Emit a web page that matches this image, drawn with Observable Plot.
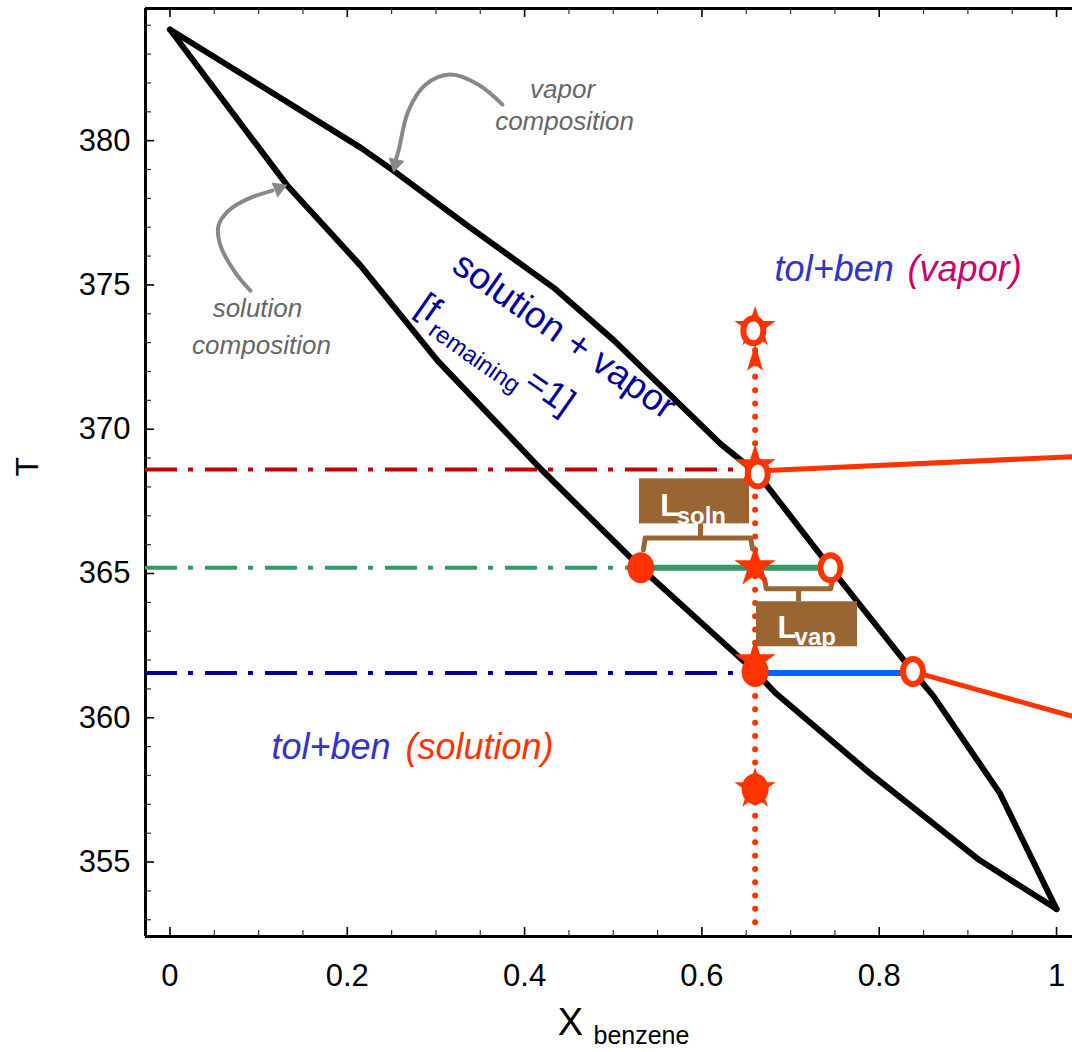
<!DOCTYPE html>
<html><head><meta charset="utf-8">
<script src="https://cdn.jsdelivr.net/npm/d3@7"></script>
<script src="https://cdn.jsdelivr.net/npm/@observablehq/plot@0.6"></script>
<style>body{margin:0;background:#fff;}</style>
</head><body><div id="chart"></div>
<script>
// ---------- data ----------
const liquidX = [0, 0.1325, 0.215, 0.302, 0.418, 0.531, 0.660, 0.683, 0.789, 0.913, 1.0];
const liquidT = [383.85, 378.44, 375.67, 372.37, 368.63, 365.2, 361.6, 360.86, 358.09, 355.07, 353.37];
const vaporX = [0, 0.215, 0.252, 0.339, 0.433, 0.501, 0.621, 0.663, 0.745, 0.838, 0.861, 0.936, 1.0];
const vaporT = [383.85, 379.76, 378.96, 376.98, 374.9, 373.07, 369.49, 368.45, 365.2, 361.6, 360.76, 357.39, 353.37];

const levelT = [368.6, 365.2, 361.55];
const levelColor = ["#c40000", "#339966", "#000099"];
const dashEndX = [0.655, 0.52, 0.645];
const tieStartX = [0.531, 0.660];
const tieEndX = [0.745, 0.838];
const tieT = [365.2, 361.55];
const tieColor = ["#339966", "#0066ff"];

const feedX = 0.660;
const feedLineT = [352.9, 372.9];
const starT = [373.52, 368.73, 365.23, 361.97, 357.53];
const hollowX = [0.658, 0.663, 0.745, 0.838];
const hollowT = [373.41, 368.45, 365.2, 361.6];
const solidX = [0.531, 0.660, 0.660];
const solidT = [365.2, 361.6, 357.53];
const arrowHeadT = [372.48];

const outLineA = {x: [0.663, 1.018], T: [368.55, 369.05]};
const outLineB = {x: [0.838, 1.018], T: [361.6, 360.05]};

const xTicks = [0, 0.2, 0.4, 0.6, 0.8, 1];
const xTickLabels = ["0", "0.2", "0.4", "0.6", "0.8", "1"];
const yTicks = [355, 360, 365, 370, 375, 380];
const yTickLabels = ["355", "360", "365", "370", "375", "380"];

// annotation geometry (data units)
const vapArrowX = [0.3751, 0.348, 0.3164, 0.2882, 0.269, 0.2578, 0.2544];
const vapArrowT = [381.25, 381.94, 382.29, 381.94, 381.04, 379.65, 379.31];
const vapHead = {x: 0.2544, T: 379.2, rotate: 193};
const solArrowX = [0.0908, 0.0739, 0.057, 0.0547, 0.066, 0.0885, 0.1156];
const solArrowT = [374.8, 375.42, 376.36, 377.05, 377.57, 377.99, 378.27];
const solHead = {x: 0.1228, T: 378.35, rotate: 68};

const boxSoln = {x1: 0.5296, x2: 0.6537, y1: 366.72, y2: 368.28};
const boxVap = {x1: 0.6616, x2: 0.7755, y1: 362.46, y2: 364.02};
const braceSolnX = [0.534, 0.536, 0.655, 0.6571];
const braceSolnT = [365.82, 366.23, 366.23, 365.85];
const stemSoln = {x: 0.5984, T: [366.23, 366.72]};
const braceVapX = [0.6706, 0.6726, 0.7453, 0.7473];
const braceVapT = [364.81, 364.47, 364.47, 364.81];
const stemVap = {x: 0.709, T: [364.47, 364.02]};

// ---------- scales ----------
const xMin = -0.0276, xMax = 1.018, yMin = 352.42, yMax = 384.58;
const pxX = (xMax - xMin) / 927, pxY = (yMax - yMin) / 928;
const FONT = "'Liberation Sans', Arial, Helvetica, sans-serif";
const RED = "#ff3300", BROWN = "#996633", GRAY = "#888888";

const xMinor = d3.range(0.05, 1.0001, 0.05).map(v => +v.toFixed(2)).filter(v => !xTicks.includes(v));
const yMinor = d3.range(353, 385).filter(v => !yTicks.includes(v));

function ellipseSymbol(rx, ry) {
  const k = 0.5523;
  return {draw(ctx) {
    ctx.moveTo(rx, 0);
    ctx.bezierCurveTo(rx, ry * k, rx * k, ry, 0, ry);
    ctx.bezierCurveTo(-rx * k, ry, -rx, ry * k, -rx, 0);
    ctx.bezierCurveTo(-rx, -ry * k, -rx * k, -ry, 0, -ry);
    ctx.bezierCurveTo(rx * k, -ry, rx, -ry * k, rx, 0);
    ctx.closePath();
  }};
}
const upHead = {draw(ctx) { ctx.moveTo(0, -14); ctx.lineTo(8, 13); ctx.lineTo(0, 7); ctx.lineTo(-8, 13); ctx.closePath(); }};
const zip = (xs, ts) => xs.map((x, i) => ({x, T: ts[i]}));

const marks = [
  // frame
  Plot.ruleX([xMin], {y1: yMin, y2: yMax, stroke: "black", strokeWidth: 3}),
  Plot.ruleY([yMax, yMin], {x1: xMin, x2: xMax, stroke: "black", strokeWidth: 3}),
  // inward ticks
  Plot.ruleY(yTicks, {x1: xMin, x2: xMin + 9 * pxX, stroke: "black", strokeWidth: 1.6}),
  Plot.ruleY(yMinor, {x1: xMin, x2: xMin + 6 * pxX, stroke: "#333", strokeWidth: 1.2}),
  Plot.ruleX(xTicks, {y1: yMax, y2: yMax - 9 * pxY, stroke: "black", strokeWidth: 1.6}),
  Plot.ruleX(xMinor, {y1: yMax, y2: yMax - 6 * pxY, stroke: "#333", strokeWidth: 1.2}),
  Plot.ruleX(xTicks, {y1: yMin, y2: yMin + 9 * pxY, stroke: "black", strokeWidth: 1.6}),
  Plot.ruleX(xMinor, {y1: yMin, y2: yMin + 6 * pxY, stroke: "#333", strokeWidth: 1.2}),
  Plot.axisX({ticks: xTicks, tickSize: 0, tickPadding: 27, fontSize: 31, label: null,
    tickFormat: d => xTickLabels[xTicks.indexOf(d)]}),
  Plot.axisY({ticks: yTicks, tickSize: 0, tickPadding: 15, fontSize: 31, label: null,
    tickFormat: d => yTickLabels[yTicks.indexOf(d)]}),
  // dash-dot level lines
  ...levelT.map((t, i) => Plot.ruleY([t], {x1: xMin, x2: dashEndX[i], stroke: levelColor[i], strokeWidth: 4, strokeDasharray: "32,11,5,12"})),
  // phase boundary curves
  Plot.line(zip(liquidX, liquidT), {x: "x", y: "T", stroke: "black", strokeWidth: 6, strokeLinejoin: "round", strokeLinecap: "round"}),
  Plot.line(zip(vaporX, vaporT), {x: "x", y: "T", stroke: "black", strokeWidth: 6, strokeLinejoin: "round", strokeLinecap: "round"}),
  // tie lines
  ...tieT.map((t, i) => Plot.ruleY([t], {x1: tieStartX[i], x2: tieEndX[i], stroke: tieColor[i], strokeWidth: 6})),
  // red solid outgoing lines
  Plot.line(zip(outLineA.x, outLineA.T), {x: "x", y: "T", stroke: RED, strokeWidth: 5}),
  Plot.line(zip(outLineB.x, outLineB.T), {x: "x", y: "T", stroke: RED, strokeWidth: 5}),
  // vertical dotted feed line
  Plot.ruleX([feedX], {y1: feedLineT[0], y2: feedLineT[1], stroke: RED, strokeWidth: 6, strokeDasharray: "0,13.3", strokeLinecap: "round"}),
  // gray annotation arrows
  Plot.line(zip(vapArrowX, vapArrowT), {x: "x", y: "T", stroke: GRAY, strokeWidth: 4, curve: "catmull-rom"}),
  Plot.dot([vapHead], {x: "x", y: "T", rotate: "rotate", symbol: "triangle", r: 6, fill: GRAY}),
  Plot.line(zip(solArrowX, solArrowT), {x: "x", y: "T", stroke: GRAY, strokeWidth: 4, curve: "catmull-rom"}),
  Plot.dot([solHead], {x: "x", y: "T", rotate: "rotate", symbol: "triangle", r: 6, fill: GRAY}),
  // brackets and boxes
  Plot.line(zip(braceSolnX, braceSolnT), {x: "x", y: "T", stroke: BROWN, strokeWidth: 5, strokeLinejoin: "round"}),
  Plot.ruleX([stemSoln.x], {y1: stemSoln.T[0], y2: stemSoln.T[1], stroke: BROWN, strokeWidth: 5}),
  Plot.line(zip(braceVapX, braceVapT), {x: "x", y: "T", stroke: BROWN, strokeWidth: 5, strokeLinejoin: "round"}),
  Plot.ruleX([stemVap.x], {y1: stemVap.T[0], y2: stemVap.T[1], stroke: BROWN, strokeWidth: 5}),
  Plot.rect([boxSoln, boxVap], {x1: "x1", x2: "x2", y1: "y1", y2: "y2", fill: BROWN}),
  Plot.text(["L"], {x: 0.5529, y: 366.99, text: d => d, fill: "white", fontWeight: "bold", fontSize: 31, textAnchor: "start", lineAnchor: "bottom", fontFamily: FONT}),
  Plot.text(["soln"], {x: 0.5715, y: 366.7, text: d => d, fill: "white", fontWeight: "bold", fontSize: 24, textAnchor: "start", lineAnchor: "bottom", fontFamily: FONT}),
  Plot.text(["L"], {x: 0.6853, y: 362.76, text: d => d, fill: "white", fontWeight: "bold", fontSize: 31, textAnchor: "start", lineAnchor: "bottom", fontFamily: FONT}),
  Plot.text(["vap"], {x: 0.7045, y: 362.52, text: d => d, fill: "white", fontWeight: "bold", fontSize: 24, textAnchor: "start", lineAnchor: "bottom", fontFamily: FONT}),
  // markers on the feed line
  Plot.dot(starT, {x: feedX, y: d => d, symbol: "star", r: 13, fill: RED}),
  Plot.dot([arrowHeadT[0]], {x: feedX, y: d => d, symbol: upHead, fill: RED}),
  Plot.dot(zip(solidX, solidT), {x: "x", y: "T", symbol: ellipseSymbol(13.5, 15.5), fill: RED}),
  Plot.dot(zip(hollowX, hollowT), {x: "x", y: "T", symbol: ellipseSymbol(10, 12.5), fill: "white", stroke: RED, strokeWidth: 6}),
  // region labels
  Plot.text(["vapor"], {x: 0.4428, y: 381.49, text: d => d, fill: "#666", fontStyle: "italic", fontSize: 26, lineAnchor: "bottom", fontFamily: FONT}),
  Plot.text(["composition"], {x: 0.445, y: 380.38, text: d => d, fill: "#666", fontStyle: "italic", fontSize: 26, lineAnchor: "bottom", fontFamily: FONT}),
  Plot.text(["solution"], {x: 0.0987, y: 373.9, text: d => d, fill: "#666", fontStyle: "italic", fontSize: 26, lineAnchor: "bottom", fontFamily: FONT}),
  Plot.text(["composition"], {x: 0.1032, y: 372.61, text: d => d, fill: "#666", fontStyle: "italic", fontSize: 26, lineAnchor: "bottom", fontFamily: FONT}),
  Plot.text(["solution + vapor"], {x: 0.445, y: 373.24, text: d => d, fill: "#000099", fontSize: 37, rotate: 35, fontFamily: FONT}),
  Plot.text(["[f"], {x: 0.2916, y: 374.21, text: d => d, fill: "#000099", fontSize: 36, rotate: 35, fontFamily: FONT}),
  Plot.text(["remaining"], {x: 0.3435, y: 372.48, text: d => d, fill: "#000099", fontSize: 24, rotate: 35, fontFamily: FONT}),
  Plot.text(["=1]"], {x: 0.4286, y: 371.3, text: d => d, fill: "#000099", fontSize: 36, rotate: 35, fontFamily: FONT}),
  Plot.text(["tol+ben"], {x: 0.682, y: 375.15, text: d => d, fill: "#3333cc", fontStyle: "italic", fontSize: 36, textAnchor: "start", lineAnchor: "bottom", fontFamily: FONT}),
  Plot.text(["(vapor)"], {x: 0.832, y: 375.15, text: d => d, fill: "#cc0066", fontStyle: "italic", fontSize: 36, textAnchor: "start", lineAnchor: "bottom", fontFamily: FONT}),
  Plot.text(["tol+ben"], {x: 0.1145, y: 358.57, text: d => d, fill: "#3333cc", fontStyle: "italic", fontSize: 36, textAnchor: "start", lineAnchor: "bottom", fontFamily: FONT}),
  Plot.text(["(solution)"], {x: 0.2657, y: 358.57, text: d => d, fill: "#ff3300", fontStyle: "italic", fontSize: 36, textAnchor: "start", lineAnchor: "bottom", fontFamily: FONT}),
  // axis titles
  Plot.text(["T"], {x: -0.1607, y: 368.7, text: d => d, fill: "black", fontSize: 32, rotate: -90, fontFamily: FONT}),
  Plot.text(["X"], {x: 0.4518, y: 349.0, text: d => d, fill: "black", fontSize: 38, lineAnchor: "bottom", fontFamily: FONT}),
  Plot.text(["benzene"], {x: 0.4777, y: 348.7, text: d => d, fill: "black", fontSize: 25, textAnchor: "start", lineAnchor: "bottom", fontFamily: FONT})
];

const chart = Plot.plot({
  width: 1072, height: 1052,
  marginLeft: 145, marginRight: 0, marginTop: 8, marginBottom: 116,
  x: {domain: [xMin, xMax], label: null},
  y: {domain: [yMin, yMax], label: null},
  style: {fontFamily: FONT, background: "white", color: "black"},
  marks
});
document.getElementById("chart").appendChild(chart);
</script></body></html>
